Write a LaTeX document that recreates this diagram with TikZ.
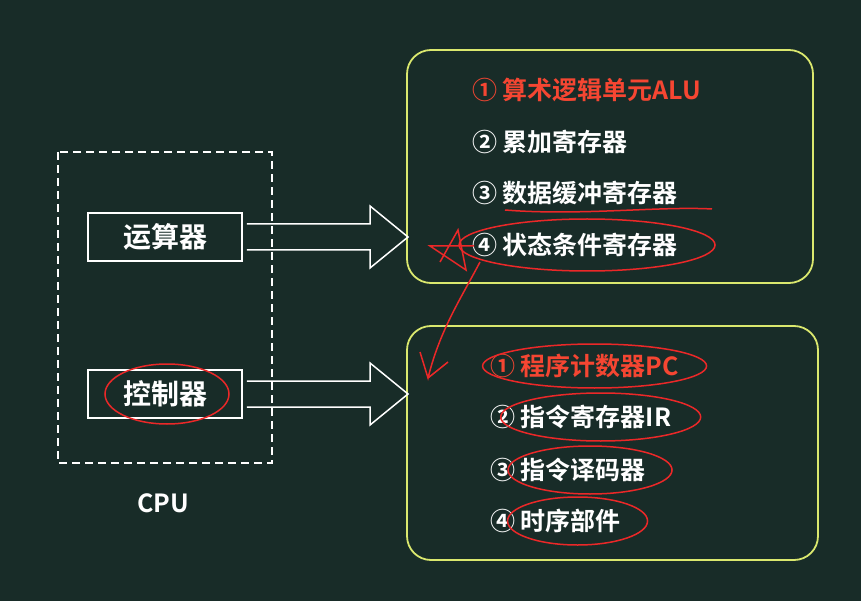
\documentclass[tikz,border=0pt]{standalone}
\usepackage{fontspec}
\newfontfamily\cjk{Noto Sans CJK SC}[BoldFont={Noto Sans CJK SC Bold}]
\usetikzlibrary{positioning}
\definecolor{slidebg}{RGB}{24,44,40}
\definecolor{boxline}{RGB}{218,232,110}
\definecolor{markred}{RGB}{235,40,40}
\definecolor{itemred}{RGB}{245,70,50}

\begin{document}
\begin{tikzpicture}[x=1pt, y=-1pt,
  every node/.style={font=\cjk\bfseries\fontsize{25}{28}\selectfont, text=white},
  unitbox/.style={draw=white, line width=1.8pt, minimum width=154, minimum height=48},
  groupbox/.style={draw=boxline, line width=1.8pt, rounded corners=24},
  item/.style={anchor=west, inner sep=0},
  redmark/.style={draw=markred, line width=1.5pt}]
  \fill[slidebg] (0,0) rectangle (861,601);
  \useasboundingbox (0,0) rectangle (861,601);

  % CPU
  \draw[white, line width=1.8pt, dash pattern=on 8pt off 5pt] (58,152) rectangle (272,463);
  \node[unitbox, font=\cjk\bfseries\fontsize{28}{30}\selectfont] (alu) at (165,237) {运算器};
  \node[unitbox, font=\cjk\bfseries\fontsize{28}{30}\selectfont] (cu) at (165,394) {控制器};
  \node (cpu) at (163,503) {CPU};

  % groups
  \draw[groupbox] (407,50) rectangle (813,283);
  \draw[groupbox] (407,326) rectangle (818,560);
  \coordinate (upin) at (408,237);
  \coordinate (lowin) at (408,394);

  % hollow arrows
  \foreach \src/\dst in {alu/upin, cu/lowin}
    \draw[white, line width=1.5pt]
      ([xshift=4, yshift=-13]\src.east) -- ([xshift=-38, yshift=-13]\dst)
      -- ([xshift=-38, yshift=-31]\dst) -- (\dst)
      -- ([xshift=-38, yshift=31]\dst) -- ([xshift=-38, yshift=13]\dst)
      -- ([xshift=4, yshift=13]\src.east);

  % items
  \node[item, text=itemred] (a1) at (472,90) {① 算术逻辑单元ALU};
  \node[item] (a2) at (472,142) {② 累加寄存器};
  \node[item] (a3) at (472,193) {③ 数据缓冲寄存器};
  \node[item] (a4) at (472,245) {④ 状态条件寄存器};
  \node[item, text=itemred] (b1) at (490,366) {① 程序计数器PC};
  \node[item] (b2) at (490,417) {② 指令寄存器IR};
  \node[item] (b3) at (490,470) {③ 指令译码器};
  \node[item] (b4) at (490,521) {④ 时序部件};

  % hand marks
  \draw[redmark] ([xshift=2]cu.center) ellipse (62 and 30);
  \draw[redmark] ([xshift=12]a4.center) ellipse (128 and 26);
  \draw[redmark] (505,210) .. controls (580,216) and (660,206) .. (712,209);
  \draw[redmark] ([xshift=10]b1.center) ellipse (112 and 22);
  \draw[redmark] ([xshift=20]b2.center) ellipse (100 and 24);
  \draw[redmark] ([xshift=22]b3.center) ellipse (82 and 24);
  \draw[redmark] ([xshift=22]b4.center) ellipse (70 and 24);
  \draw[redmark] (480,262) .. controls (460,300) and (440,330) .. (428,378)
    -- (420,352) (428,378) -- (448,362);
  \draw[redmark] (440,262) -- (458,230) -- (466,270) -- (430,246) -- (474,246);
\end{tikzpicture}
\end{document}
